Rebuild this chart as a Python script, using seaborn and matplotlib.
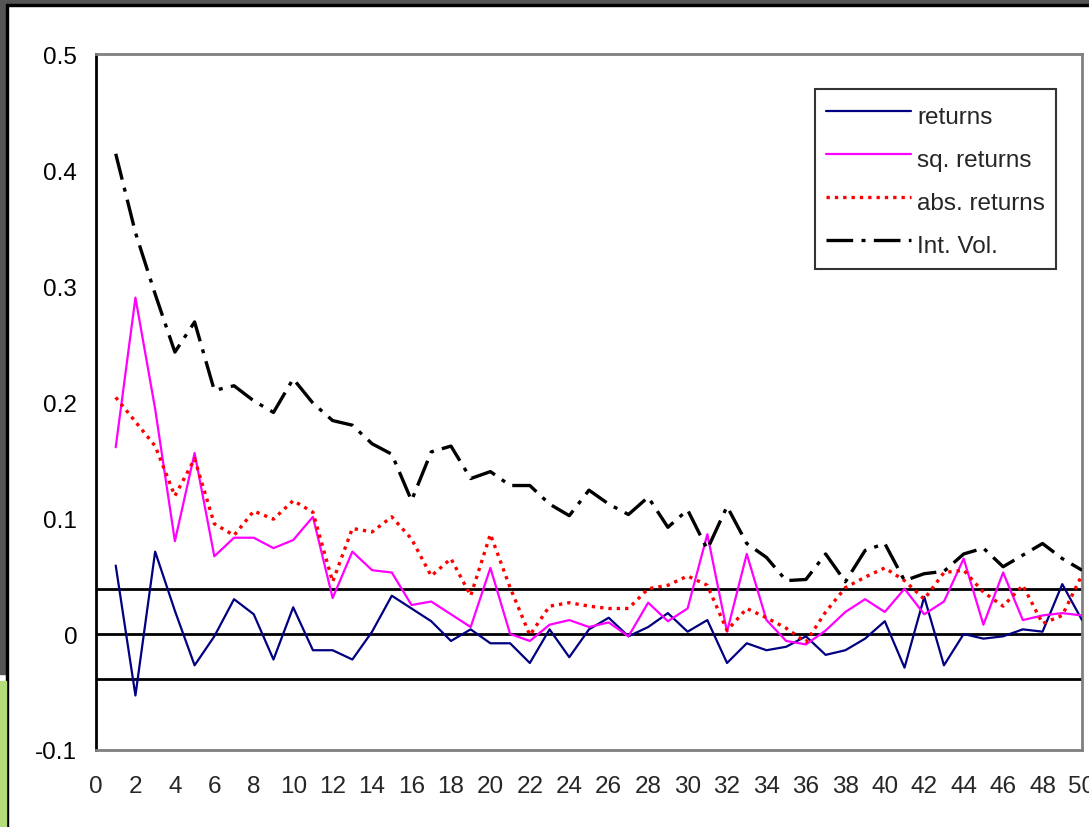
import matplotlib
matplotlib.use("Agg")
import matplotlib.pyplot as plt
from matplotlib.patches import Rectangle
import pandas as pd
import seaborn as sns

# Lags 1..50
lags = list(range(1, 51))

returns = [0.059, -0.053, 0.071, 0.020, -0.027, -0.002, 0.030, 0.017, -0.022, 0.023,
           -0.014, -0.014, -0.022, 0.002, 0.033, 0.022, 0.011, -0.006, 0.004, -0.008,
           -0.008, -0.025, 0.004, -0.020, 0.004, 0.014, -0.002, 0.006, 0.018, 0.002,
           0.012, -0.025, -0.008, -0.014, -0.011, -0.002, -0.018, -0.014, -0.004, 0.011,
           -0.029, 0.032, -0.027, 0.000, -0.004, -0.002, 0.004, 0.002, 0.043, 0.012]

sq_returns = [0.161, 0.290, 0.194, 0.080, 0.156, 0.067, 0.083, 0.083, 0.074, 0.081,
              0.101, 0.031, 0.071, 0.055, 0.053, 0.025, 0.028, 0.017, 0.006, 0.057,
              0.000, -0.006, 0.008, 0.012, 0.006, 0.010, -0.002, 0.027, 0.011, 0.022,
              0.086, 0.002, 0.069, 0.012, -0.006, -0.009, 0.003, 0.019, 0.030, 0.019,
              0.039, 0.017, 0.028, 0.065, 0.008, 0.053, 0.012, 0.016, 0.018, 0.016]

abs_returns = [0.204, 0.183, 0.162, 0.119, 0.151, 0.095, 0.085, 0.106, 0.099, 0.115,
               0.105, 0.045, 0.091, 0.088, 0.101, 0.082, 0.050, 0.065, 0.033, 0.086,
               0.040, -0.001, 0.024, 0.027, 0.024, 0.022, 0.022, 0.039, 0.042, 0.050,
               0.042, 0.003, 0.022, 0.014, 0.005, -0.007, 0.019, 0.040, 0.049, 0.057,
               0.046, 0.030, 0.053, 0.055, 0.036, 0.024, 0.042, 0.009, 0.016, 0.051]

int_vol = [0.414, 0.346, 0.293, 0.243, 0.269, 0.210, 0.214, 0.201, 0.191, 0.220,
           0.199, 0.184, 0.180, 0.164, 0.155, 0.115, 0.157, 0.162, 0.134, 0.140,
           0.128, 0.128, 0.112, 0.102, 0.124, 0.112, 0.103, 0.118, 0.092, 0.107,
           0.073, 0.110, 0.078, 0.066, 0.046, 0.047, 0.069, 0.045, 0.072, 0.078,
           0.046, 0.052, 0.054, 0.069, 0.074, 0.058, 0.068, 0.078, 0.065, 0.055]

# confidence band and zero line
hlines = [0.039, 0.0, -0.039]

y_ticks = [-0.1, 0, 0.1, 0.2, 0.3, 0.4, 0.5]
y_labels = ["-0.1", "0", "0.1", "0.2", "0.3", "0.4", "0.5"]
x_ticks = list(range(0, 51, 2))

df = pd.DataFrame({"lag": lags, "returns": returns, "sq. returns": sq_returns,
                   "abs. returns": abs_returns, "Int. Vol.": int_vol})

sns.set_theme(style="white")
plt.rcParams["font.family"] = ["Liberation Sans", "DejaVu Sans"]

fig = plt.figure(figsize=(10.89, 8.28), dpi=100)
ax = fig.add_axes([96 / 1089, 1 - 751 / 828, 986 / 1089, 696 / 828])

for y in hlines:
    ax.axhline(y, color="black", linewidth=2, zorder=1)

sns.lineplot(data=df, x="lag", y="returns", ax=ax, color="#000080", linewidth=1.6,
             label="returns", zorder=3)
sns.lineplot(data=df, x="lag", y="sq. returns", ax=ax, color="#FF00FF", linewidth=1.6,
             label="sq. returns", zorder=3)
sns.lineplot(data=df, x="lag", y="abs. returns", ax=ax, color="#FF0000", linewidth=2.4,
             linestyle=(0, (1.0, 1.5)), label="abs. returns", zorder=3)
sns.lineplot(data=df, x="lag", y="Int. Vol.", ax=ax, color="black", linewidth=2.4,
             linestyle=(0, (8, 2.5, 1.2, 2.5)), label="Int. Vol.", zorder=3)

ax.set_xlim(0, 50)
ax.set_ylim(-0.1, 0.5)
ax.set_xticks(x_ticks)
ax.set_yticks(y_ticks)
ax.set_yticklabels(y_labels)
ax.set_xlabel("")
ax.set_ylabel("")
ax.tick_params(axis="y", direction="inout", length=11, width=2, colors="black",
               labelsize=17.5, pad=8)
ax.tick_params(axis="x", length=0, labelsize=17.5, pad=18)
for lab in ax.get_xticklabels():
    lab.set_clip_on(False)

ax.spines["left"].set_color("black")
ax.spines["left"].set_linewidth(2)
for side in ["top", "right", "bottom"]:
    ax.spines[side].set_color("#808080")
    ax.spines[side].set_linewidth(2)

leg = ax.legend(loc="upper left", bbox_to_anchor=(0.729, 0.950), fontsize=17.5,
                frameon=True, fancybox=False, edgecolor="black", handlelength=3.5,
                handleheight=1.5, handletextpad=0.25, labelspacing=0.55,
                borderpad=0.45, borderaxespad=0)
leg.get_frame().set_linewidth(1.5)

# screenshot frame at top/left edges
fig.add_artist(Rectangle((0, 1 - 5 / 828), 1, 5 / 828, transform=fig.transFigure,
                         color="#555555", zorder=0))
fig.add_artist(Rectangle((0, 1 - 7 / 828), 1, 2 / 828, transform=fig.transFigure,
                         color="black", zorder=0))
fig.add_artist(Rectangle((0, 1 - 675 / 828), 6 / 1089, 675 / 828, transform=fig.transFigure,
                         color="#555555", zorder=0))
fig.add_artist(Rectangle((6 / 1089, 0), 2 / 1089, 1 - 5 / 828, transform=fig.transFigure,
                         color="black", zorder=0))
fig.add_artist(Rectangle((0, 0), 6 / 1089, 1 - 682 / 828, transform=fig.transFigure,
                         color="#b5dd7a", zorder=0))

fig.savefig("out.png", dpi=100)
